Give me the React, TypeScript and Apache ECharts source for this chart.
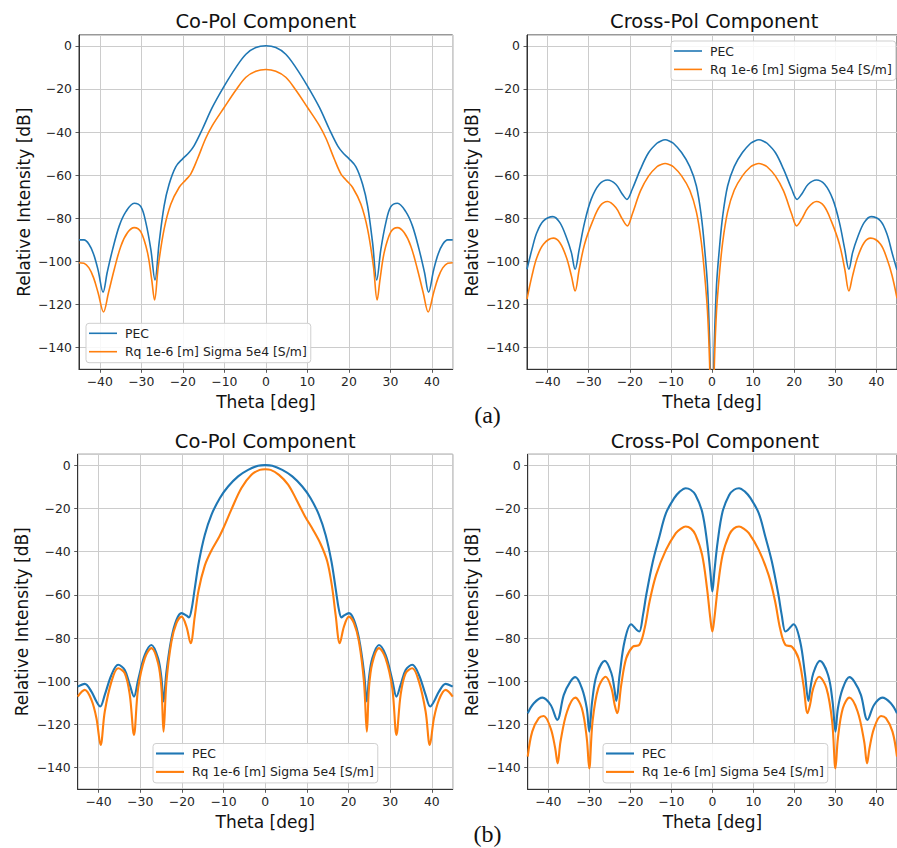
import React, { useEffect, useRef } from 'react';
import * as echarts from 'echarts';

const FONT = 'DejaVu Sans';
const BLUE = '#1f77b4';
const ORANGE = '#ff7f0e';
const PEC = 'PEC';
const RQ = 'Rq 1e-6 [m] Sigma 5e4 [S/m]';

const subplotTitles = ['Co-Pol Component', 'Cross-Pol Component', 'Co-Pol Component', 'Cross-Pol Component'];
const captions = ['(a)', '(b)'];
const xAxisTitle = 'Theta [deg]';
const yAxisTitle = 'Relative Intensity [dB]';

// (a) Co-Pol
const aCoPolPec: [number, number][] = [
  [-45, -90], [-43.8, -90], [-42.6, -92], [-41.5, -96.5], [-40.4, -104], [-39.2, -114.2], [-38.2, -105], [-36.9, -94.4],
  [-35.3, -83.5], [-33.7, -76.9], [-31.7, -73], [-30.1, -74.6], [-28.9, -82], [-27.7, -94.4], [-26.7, -108.6], [-25.7, -91.3],
  [-24.5, -74.2], [-23.3, -64.2], [-21.7, -56.1], [-20, -52.3], [-18.5, -49.5], [-17.3, -46.4], [-15.3, -38.7], [-12.9, -28.6],
  [-10, -18.6], [-7.2, -10], [-4.8, -3.9], [-2.4, -0.8], [0, 0],
  [2.4, -0.8], [4.8, -3.9], [7.2, -10], [10, -18.6], [12.9, -28.6], [15.3, -38.7], [17.3, -46.4], [18.5, -49.5], [20, -52.3],
  [21.7, -56.1], [23.3, -64.2], [24.5, -74.2], [25.7, -91.3], [26.7, -108.6], [27.7, -94.4], [28.9, -82], [30.1, -74.6],
  [31.7, -73], [33.7, -76.9], [35.3, -83.5], [36.9, -94.4], [38.2, -105], [39.2, -114.2], [40.4, -104], [41.5, -96.5],
  [42.6, -92], [43.8, -90], [45, -90],
];
const aCoPolRq: [number, number][] = [
  [-45, -100.6], [-43.8, -100.8], [-42.6, -103], [-41.5, -107.5], [-40.4, -114.5], [-39.1, -123.4], [-37.9, -114.5],
  [-36.5, -103.6], [-34.9, -92.8], [-33.3, -86.6], [-31.7, -84.3], [-30.1, -86.3], [-28.5, -95.9], [-27.5, -108.3],
  [-26.8, -117.9], [-25.9, -102], [-24.5, -85], [-22.9, -73.5], [-20.9, -65.7], [-19.3, -62.2], [-18.1, -59.5],
  [-16.5, -52.6], [-14.5, -43], [-12.9, -37], [-10, -28.5], [-7.2, -20.5], [-4.8, -14.6], [-2.4, -11.8], [0, -11],
  [2.4, -11.8], [4.8, -14.6], [7.2, -20.5], [10, -28.5], [12.9, -37], [14.5, -43], [16.5, -52.6], [18.1, -59.5],
  [19.3, -62.2], [20.9, -65.7], [22.9, -73.5], [24.5, -85], [25.9, -102], [26.8, -117.9], [27.5, -108.3], [28.5, -95.9],
  [30.1, -86.3], [31.7, -84.3], [33.3, -86.6], [34.9, -92.8], [36.5, -103.6], [37.9, -114.5], [39.1, -123.4],
  [40.4, -114.5], [41.5, -107.5], [42.6, -103], [43.8, -100.8], [45, -100.6],
];

// (a) Cross-Pol
const aCrossPec: [number, number][] = [
  [-45, -103.6], [-43.8, -94.4], [-42.6, -86.6], [-41, -81.2], [-38.7, -79.2], [-37, -82], [-35.4, -88.9], [-34.2, -95.9],
  [-33.3, -103.6], [-32.3, -94.4], [-31, -82], [-29.4, -71.2], [-27.4, -64.2], [-25.4, -62.2], [-23.4, -64.2], [-21.8, -68.8],
  [-20.7, -71.2], [-19.4, -66.5], [-17.4, -57.2], [-15.4, -49.5], [-13.4, -45.2], [-12.4, -44.1], [-11.4, -43.6],
  [-10.4, -44.1], [-9.4, -45.2], [-7.4, -49.5], [-5.4, -56], [-3.8, -65], [-2.6, -79], [-1.8, -94], [-1.1, -111],
  [-0.6, -136], [0, -180],
  [0.6, -136], [1.1, -111], [1.8, -94], [2.6, -79], [3.8, -65], [5.4, -56], [7.4, -49.5], [9.4, -45.2], [10.4, -44.1],
  [11.4, -43.6], [12.4, -44.1], [13.4, -45.2], [15.4, -49.5], [17.4, -57.2], [19.4, -66.5], [20.7, -71.2], [21.8, -68.8],
  [23.4, -64.2], [25.4, -62.2], [27.4, -64.2], [29.4, -71.2], [31, -82], [32.3, -94.4], [33.3, -103.6], [34.2, -95.9],
  [35.4, -88.9], [37, -82], [38.7, -79.2], [41, -81.2], [42.6, -87.5], [43.8, -96], [45, -104],
];
const aCrossRq: [number, number][] = [
  [-45, -117.5], [-43.8, -106.7], [-42.6, -98.2], [-41, -92], [-38.6, -89.2], [-37, -91.3], [-35.4, -98.2], [-34.2, -106.7],
  [-33.3, -113.7], [-32.3, -103.6], [-31, -92], [-29, -81.2], [-27.2, -74.2], [-25.4, -72.2], [-23.4, -75], [-21.8, -80.4],
  [-20.6, -83.5], [-19.4, -78.1], [-17.4, -67.3], [-15.4, -60.3], [-13.4, -56.1], [-12.4, -55.1], [-11.4, -54.6],
  [-10.4, -55.1], [-9.4, -56.1], [-7.4, -60.3], [-5.4, -67], [-3.8, -77], [-2.6, -91], [-1.8, -106], [-1.1, -123],
  [-0.6, -146], [0, -190],
  [0.6, -146], [1.1, -123], [1.8, -106], [2.6, -91], [3.8, -77], [5.4, -67], [7.4, -60.3], [9.4, -56.1], [10.4, -55.1],
  [11.4, -54.6], [12.4, -55.1], [13.4, -56.1], [15.4, -60.3], [17.4, -67.3], [19.4, -78.1], [20.6, -83.5], [21.8, -80.4],
  [23.4, -75], [25.4, -72.2], [27.2, -74.2], [29, -81.2], [31, -92], [32.3, -103.6], [33.3, -113.7], [34.2, -106.7],
  [35.4, -98.2], [37, -91.3], [38.6, -89.2], [41, -92], [42.6, -99], [43.8, -106.5], [45, -117],
];

// (b) Co-Pol
const bCoPolPec: [number, number][] = [
  [-45, -102.5], [-43.3, -101.2], [-41.7, -104.8], [-40.5, -109.4], [-39.6, -111.7], [-38.5, -106.3], [-36.9, -97.1],
  [-35.3, -92.4], [-33.7, -94.8], [-32.5, -101.7], [-31.5, -107.1], [-30.5, -99.4], [-28.9, -87.8], [-27.3, -83.2],
  [-25.7, -89.4], [-24.9, -98.6], [-24.4, -109.4], [-23.7, -95.5], [-22.5, -80.1], [-21.3, -71.6], [-20.1, -68.5],
  [-18.9, -69.6], [-18.3, -70.5], [-17.7, -67], [-16.9, -57], [-15.9, -44.6], [-14.5, -32.3], [-12.9, -23], [-10.9, -15.3],
  [-8.9, -9.9], [-6.5, -5.2], [-4.1, -2.2], [-1.7, -0.3], [0, 0],
  [1.7, -0.3], [4.1, -2.2], [6.5, -5.2], [8.9, -9.9], [10.9, -15.3], [12.9, -23], [14.5, -32.3], [15.9, -44.6], [16.9, -57],
  [17.7, -67], [18.3, -70.5], [18.9, -69.6], [20.1, -68.5], [21.3, -71.6], [22.5, -80.1], [23.7, -95.5], [24.4, -109.4],
  [24.9, -98.6], [25.7, -89.4], [27.3, -83.2], [28.9, -87.8], [30.5, -99.4], [31.5, -107.1], [32.5, -101.7], [33.7, -94.8],
  [35.3, -92.4], [36.9, -97.1], [38.5, -106.3], [39.6, -111.7], [40.5, -109.4], [41.7, -104.8], [43.3, -101.2], [45, -102.5],
];
const bCoPolRq: [number, number][] = [
  [-45, -107.1], [-43.3, -104], [-41.7, -108.6], [-40.5, -117.1], [-39.5, -129.5], [-38.5, -114], [-36.9, -100.2],
  [-35.3, -94], [-33.7, -96.3], [-32.5, -106.3], [-31.5, -124.8], [-30.5, -103.2], [-28.9, -89.4], [-27.3, -84.7],
  [-25.7, -91.7], [-24.9, -103.2], [-24.4, -123.3], [-23.7, -100.2], [-22.5, -81.6], [-21.3, -73.1], [-20.1, -70.1],
  [-18.9, -74.7], [-17.9, -82.4], [-16.9, -70], [-16, -58], [-14.5, -46.5], [-12.9, -39.5], [-11, -33], [-10, -29],
  [-8.1, -20.5], [-5.7, -10.6], [-3.3, -4.5], [-1.3, -2.2], [0, -1.9],
  [1.3, -2.2], [3.3, -4.5], [5.5, -9], [7.5, -16], [9.5, -23.5], [11.5, -30], [13.3, -36.5], [14.9, -44.6], [16.1, -57],
  [16.9, -69.3], [17.9, -82.4], [18.9, -74.7], [20.1, -70.1], [21.3, -73.1], [22.5, -81.6], [23.7, -100.2], [24.4, -123.3],
  [24.9, -103.2], [25.7, -91.7], [27.3, -84.7], [28.9, -89.4], [30.5, -103.2], [31.5, -124.8], [32.5, -106.3],
  [33.7, -96.3], [35.3, -94], [36.9, -100.2], [38.5, -114], [39.5, -129.5], [40.5, -117.1], [41.7, -108.6], [43.3, -104],
  [45, -107.1],
];

// (b) Cross-Pol
const bCrossPec: [number, number][] = [
  [-45, -114.8], [-43.5, -110.2], [-41.4, -107.6], [-39.4, -111], [-37.8, -117.9], [-36.2, -106.3], [-34.6, -100.2],
  [-33.4, -98.1], [-31.8, -103.2], [-30.6, -112.5], [-30, -123.3], [-29.3, -109.4], [-28.2, -97.1], [-26.2, -90.6],
  [-24.6, -96.3], [-23.9, -103.2], [-23.4, -109.1], [-22.6, -97.1], [-21.4, -81.6], [-19.8, -73.6], [-18.4, -76.3],
  [-17.8, -77], [-16.9, -69.3], [-16.1, -60], [-14.5, -44.6], [-12.9, -33], [-11.3, -22.2], [-9.3, -15.3], [-8, -12.4],
  [-6.5, -10.7], [-5.3, -11.4], [-4.1, -13.8], [-2.5, -21.5], [-1.3, -35.4], [-0.5, -49.2], [0, -58.5],
  [0.5, -49.2], [1.3, -35.4], [2.5, -21.5], [4.1, -13.8], [5.3, -11.4], [6.5, -10.7], [8, -12.4], [9.3, -15.3],
  [11.3, -22.2], [12.9, -33], [14.5, -44.6], [16.1, -60], [16.9, -69.3], [17.8, -77], [18.4, -76.3], [19.8, -73.6],
  [21.4, -81.6], [22.6, -97.1], [23.4, -109.1], [23.9, -103.2], [24.6, -96.3], [26.2, -90.6], [28.2, -97.1], [29.3, -109.4],
  [30, -123.3], [30.6, -112.5], [31.8, -103.2], [33.4, -98.1], [34.6, -100.2], [36.2, -106.3], [37.8, -117.9], [39.4, -111],
  [41.4, -107.6], [43.5, -110.2], [45, -114.8],
];
const bCrossRq: [number, number][] = [
  [-45, -134.9], [-43.9, -123.3], [-42.3, -117.1], [-41.1, -116.1], [-39.4, -121.8], [-38.3, -131], [-37.7, -138],
  [-37, -127.9], [-35.4, -114], [-33.4, -107.6], [-31.8, -112.5], [-30.6, -126.4], [-30, -140.3], [-29.2, -118.7],
  [-27.8, -103.2], [-26, -97.9], [-24.6, -103.2], [-23.8, -111], [-23.2, -114.8], [-22.2, -101.7], [-21, -89.4],
  [-19.4, -84], [-17.8, -83.2], [-16.5, -75.5], [-15.3, -63.1], [-13.7, -50.8], [-11.3, -39.2], [-8.9, -31.5],
  [-7.8, -29.6], [-6.5, -28.4], [-5.2, -29.4], [-4.1, -32.3], [-2.5, -41.5], [-1.3, -57], [-0.5, -70.8], [0, -77],
  [0.5, -70.8], [1.3, -57], [2.5, -41.5], [4.1, -32.3], [5.2, -29.4], [6.5, -28.4], [7.8, -29.6], [8.9, -31.5],
  [11.3, -39.2], [13.7, -50.8], [15.3, -63.1], [16.5, -75.5], [17.8, -83.2], [19.4, -84], [21, -89.4], [22.2, -101.7],
  [23.2, -114.8], [23.8, -111], [24.6, -103.2], [26, -97.9], [27.8, -103.2], [29.2, -118.7], [30, -140.3], [30.6, -126.4],
  [31.8, -112.5], [33.4, -107.6], [35.4, -114], [37, -127.9], [37.7, -138], [38.3, -131], [39.4, -121.8], [41.1, -116.1],
  [42.3, -117.1], [43.9, -123.3], [45, -134.9],
];

const panelData = [
  [aCoPolPec, aCoPolRq],
  [aCrossPec, aCrossRq],
  [bCoPolPec, bCoPolRq],
  [bCrossPec, bCrossRq],
];

const GRIDS = [
  { left: 79, top: 35, width: 373.7, height: 334.3 },
  { left: 527, top: 35, width: 374.5, height: 334.3 },
  { left: 77.7, top: 454.3, width: 375, height: 335 },
  { left: 527.7, top: 454.3, width: 374.5, height: 335 },
];
const LINE_W = [1.6, 1.6, 2.1, 2.1];
const TITLE_POS = [[265.8, 21.3], [714.2, 21.3], [265.2, 441.3], [715, 441.3]];
const LEGEND_POS = [[86, 323.3], [671, 41], [153, 743.5], [603, 743.5]];
const CAPTION_POS = [[487.5, 415], [487.5, 834]];

const minusFmt = (v: number) => (v < 0 ? '\u2212' + String(-v) : String(v));

function buildOption() {
  const axisColor = '#333333';
  const labelColor = '#262626';
  const grid = GRIDS.map((g) => ({
    ...g,
    show: true,
    borderColor: axisColor,
    borderWidth: 1,
    backgroundColor: 'transparent',
    containLabel: false,
  }));
  const xAxis = GRIDS.map((_, i) => ({
    type: 'value',
    gridIndex: i,
    min: -45,
    max: 45,
    splitNumber: 9,
    minInterval: 10,
    maxInterval: 10,
    name: xAxisTitle,
    nameLocation: 'middle',
    nameGap: 24,
    nameTextStyle: { fontFamily: FONT, fontSize: 17, color: '#111' },
    axisLine: { show: true, onZero: false, lineStyle: { color: axisColor, width: 1 } },
    axisTick: { show: true, inside: false, length: 3.5, lineStyle: { color: axisColor, width: 0.8 } },
    axisLabel: {
      showMinLabel: false,
      showMaxLabel: false,
      margin: 6,
      fontFamily: FONT,
      fontSize: 12.4,
      color: labelColor,
      formatter: minusFmt,
    },
    splitLine: { show: true, lineStyle: { color: '#cccccc', width: 1 } },
  }));
  const yAxis = GRIDS.map((_, i) => ({
    type: 'value',
    gridIndex: i,
    min: -150,
    max: 5,
    splitNumber: 8,
    minInterval: 20,
    maxInterval: 20,
    name: yAxisTitle,
    nameLocation: 'middle',
    nameRotate: 90,
    nameGap: 47,
    nameTextStyle: { fontFamily: FONT, fontSize: 17, color: '#111' },
    axisLine: { show: true, onZero: false, lineStyle: { color: axisColor, width: 1 } },
    axisTick: { show: true, inside: false, length: 3.5, lineStyle: { color: axisColor, width: 0.8 } },
    axisLabel: {
      showMinLabel: false,
      showMaxLabel: false,
      margin: 7,
      fontFamily: FONT,
      fontSize: 12.4,
      color: labelColor,
      formatter: minusFmt,
    },
    splitLine: { show: true, lineStyle: { color: '#cccccc', width: 1 } },
  }));
  const series: any[] = [];
  panelData.forEach((pair, i) => {
    const names = [PEC, RQ];
    const colors = [BLUE, ORANGE];
    pair.forEach((d, k) => {
      series.push({
        type: 'line',
        name: names[k],
        xAxisIndex: i,
        yAxisIndex: i,
        data: d,
        symbol: 'none',
        smooth: 0.35,
        color: colors[k],
        itemStyle: { color: colors[k] },
        lineStyle: { color: colors[k], width: LINE_W[i] },
        emphasis: { disabled: true },
        z: 3 + k,
      });
    });
  });
  const title = subplotTitles.map((t, i) => ({
    text: t,
    left: TITLE_POS[i][0],
    top: TITLE_POS[i][1],
    textAlign: 'center',
    textVerticalAlign: 'middle',
    padding: 0,
    textStyle: { fontFamily: FONT, fontSize: 19.5, fontWeight: 'normal', color: '#111' },
  }));
  const legend = LEGEND_POS.map((p, i) => ({
    show: true,
    orient: 'vertical',
    left: p[0],
    top: p[1],
    icon: 'rect',
    itemWidth: 28,
    itemHeight: LINE_W[i],
    itemGap: 4.4,
    padding: [3, 4, 4, 3],
    backgroundColor: 'rgba(255,255,255,0.85)',
    borderColor: '#cfcfcf',
    borderWidth: 1,
    borderRadius: 3,
    selectedMode: false,
    textStyle: { fontFamily: FONT, fontSize: 12.4, color: '#222', lineHeight: 14, padding: [0, 0, 0, 3] },
    data: [PEC, RQ],
  }));
  const graphic = captions.map((c, i) => ({
    type: 'text',
    x: CAPTION_POS[i][0],
    y: CAPTION_POS[i][1],
    style: {
      text: c,
      font: '24px "Liberation Serif"',
      fill: '#111',
      align: 'center',
      verticalAlign: 'middle',
      textAlign: 'center',
      textVerticalAlign: 'middle',
    },
  }));
  return {
    animation: false,
    backgroundColor: '#ffffff',
    textStyle: { fontFamily: FONT },
    title,
    legend,
    grid,
    xAxis,
    yAxis,
    series,
    graphic,
  };
}

export default function App() {
  const ref = useRef<HTMLDivElement>(null);
  useEffect(() => {
    if (!ref.current) return;
    const chart = echarts.init(ref.current, null, { renderer: 'svg' });
    chart.setOption(buildOption() as any);
    return () => chart.dispose();
  }, []);
  return (
    <div
      ref={ref}
      style={{ position: 'absolute', left: 0, top: 0, width: 897, height: 848, background: '#fff' }}
    />
  );
}
